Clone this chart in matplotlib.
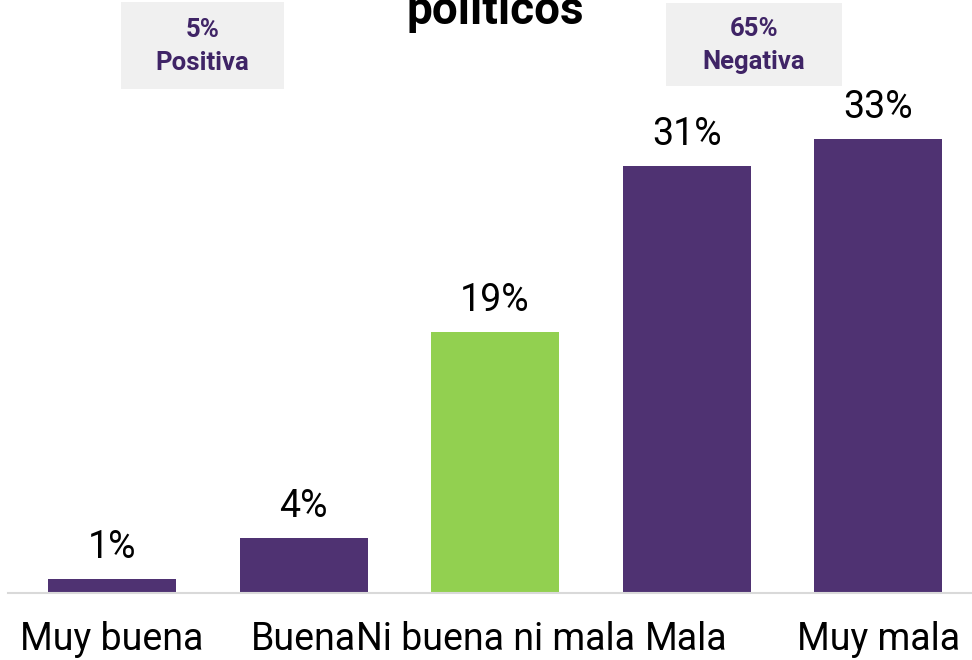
import matplotlib
matplotlib.use("Agg")
import matplotlib.pyplot as plt
from matplotlib.patches import Rectangle

categories = ["Muy buena", "Buena", "Ni buena ni mala", "Mala", "Muy mala"]
values = [1, 4, 19, 31, 33]
colors = ["#4f3272", "#4f3272", "#92d050", "#4f3272", "#4f3272"]
summary_labels = ["5%\nPositiva", "65%\nNegativa"]

plt.rcParams['font.family'] = ['Roboto', 'DejaVu Sans']

W, H = 972, 660
fig = plt.figure(figsize=(W / 100, H / 100), dpi=100)
ax = fig.add_axes([8 / W, 67 / H, 1 - 8 / W, 593 / H])

x = range(len(values))
ax.bar(x, values, width=0.668, color=colors)
for i, v in enumerate(values):
    ax.text(i, v + 0.95, f"{v}%", ha="center", va="bottom", fontsize=27)

ax.set_xlim(-0.543, 4.49)
ax.set_ylim(0, 43.1)
ax.set_yticks([])
ax.set_xticks(list(x))
ax.set_xticklabels(categories, fontsize=27)
ax.tick_params(axis="x", length=0, pad=20)
for s in ["top", "right", "left"]:
    ax.spines[s].set_visible(False)
ax.spines["bottom"].set_color("#d9d9d9")
ax.spines["bottom"].set_linewidth(1.5)

# title (only last line visible in the crop)
fig.text(495 / W, 1 - 24 / H, "políticos", ha="center", va="baseline",
         fontsize=33, fontweight="bold")

# summary boxes
boxes = [(121, 2, 163, 87), (666, 3, 176, 83)]
for (bx, by, bw, bh), lab in zip(boxes, summary_labels):
    fig.add_artist(Rectangle((bx / W, 1 - (by + bh) / H), bw / W, bh / H,
                             transform=fig.transFigure, facecolor="#f0f0f0",
                             edgecolor="none"))
    fig.text((bx + bw / 2) / W, 1 - (by + bh / 2 + 1) / H, lab, ha="center",
             va="center", fontsize=18.5, fontweight="bold", color="#3f2466",
             linespacing=1.45)

fig.savefig("out.png", dpi=100)
